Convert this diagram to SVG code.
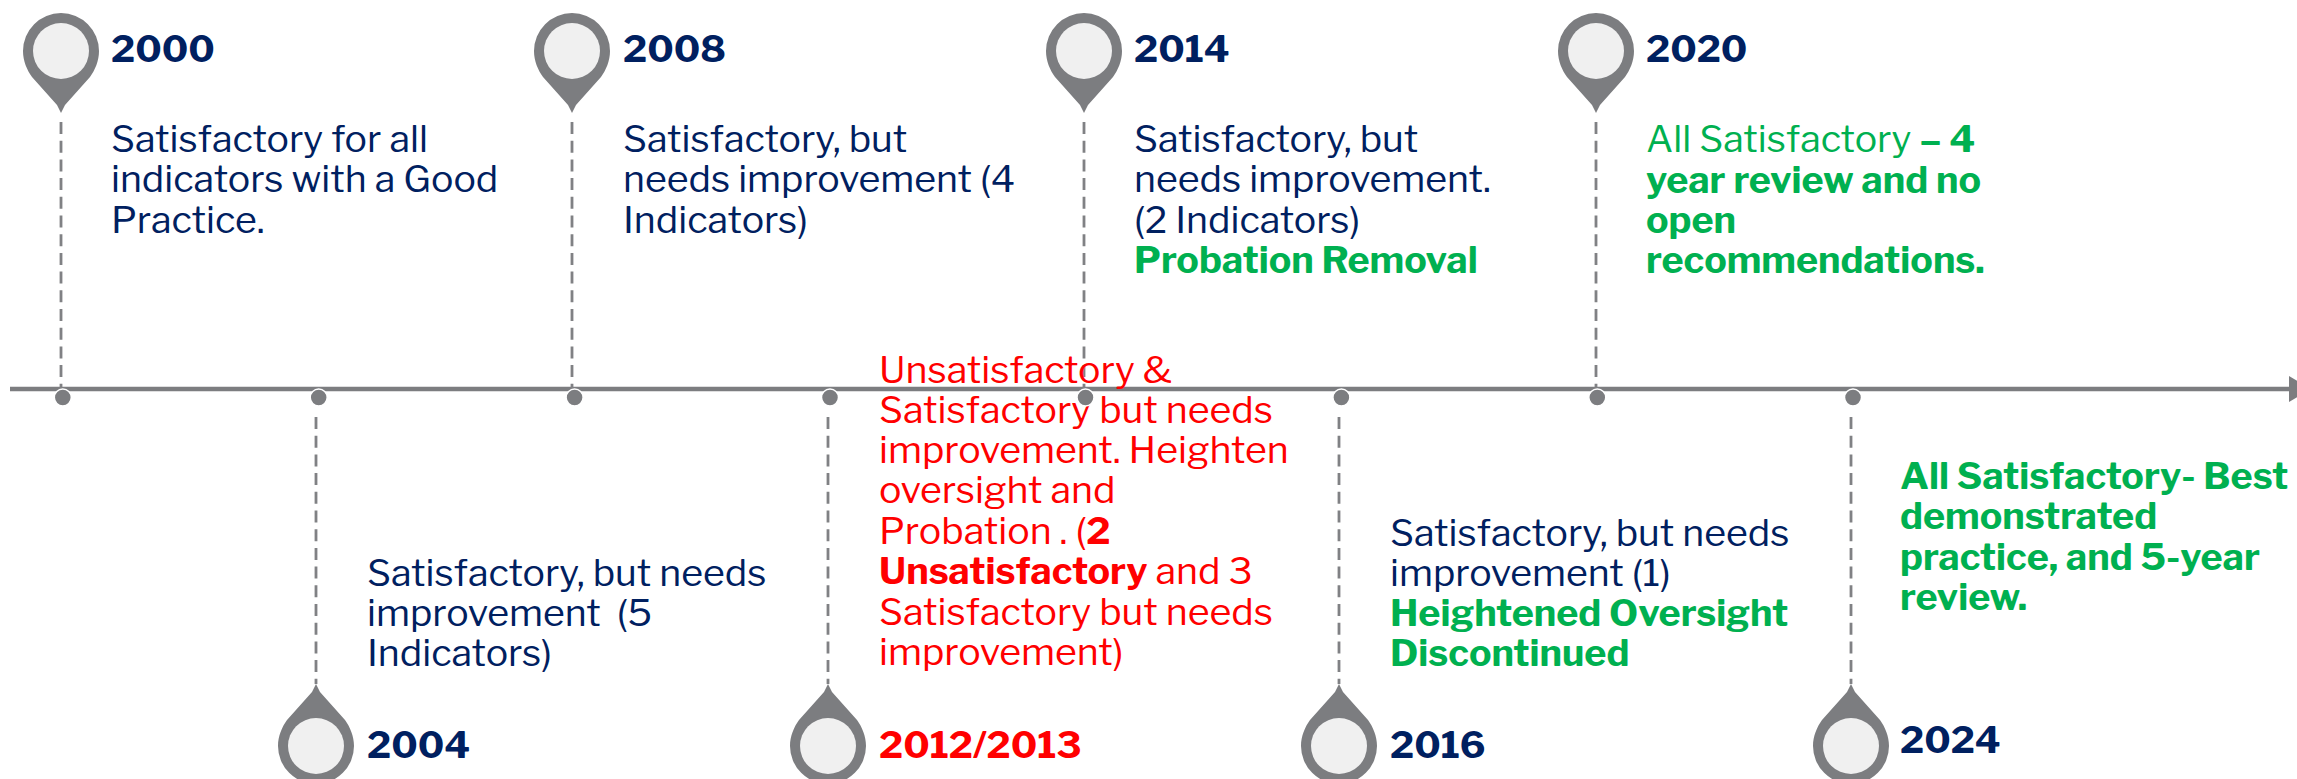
<svg xmlns="http://www.w3.org/2000/svg" width="2297" height="779" viewBox="0 0 2297 779">
<style>
text{font-family:"Libre Franklin","Liberation Sans",Arial,sans-serif;font-size:37.5px}
text .b,text.b{font-weight:700;font-size:37.7px}
text.y{font-weight:700;font-size:37.5px;fill:#002060}
.n{fill:#002060}.r{fill:#f00}.g{fill:#00b050}
.d{stroke:#808184;stroke-width:2.8;stroke-dasharray:12 6.7;fill:none}
.p{fill:#7c7d80}.c{fill:#f0f0f0}
.m circle{fill:#7c7d80;stroke:#fff;stroke-width:1.5}
</style>
<defs>
<g id="pd"><path class="p" d="M0,0L-4,-8L-29,-36C-34,-43 -38,-52 -38,-62A38,38 0 0 1 38,-62C38,-52 34,-43 29,-36L4,-8Z"/><circle class="c" cx="0" cy="-62" r="28"/></g>
<g id="pu"><path class="p" d="M0,0L4,8L29,36C34,43 38,52 38,62A38,38 0 0 1 -38,62C-38,52 -34,43 -29,36L-4,8Z"/><circle class="c" cx="0" cy="62" r="28"/></g>
</defs>
<g id="connectors">
<line x1="10" y1="389" x2="2290" y2="389" stroke="#7c7d80" stroke-width="4.4"/>
<path class="p" d="M2289,376L2289,402L2311,389Z"/>
<path class="d" d="M61,122V389M572,122V389M1084,122V389M1596,122V389M316,417V684M828,417V684M1339,417V684M1851,417V684"/>
</g>
<g id="n2000"><use href="#pd" x="61" y="113"/><text class="y" x="111" y="62">2000</text>
<text class="n"><tspan x="111" y="152">Satisfactory for all</tspan><tspan x="111" y="192">indicators with a Good</tspan><tspan x="111" y="233">Practice.</tspan></text></g>
<g id="n2004"><use href="#pu" x="316" y="684"/><text class="y" x="367" y="758">2004</text>
<text class="n" xml:space="preserve"><tspan x="367" y="586">Satisfactory, but needs</tspan><tspan x="367" y="626">improvement  (5</tspan><tspan x="367" y="666">Indicators)</tspan></text></g>
<g id="n2008"><use href="#pd" x="572" y="113"/><text class="y" x="623" y="62">2008</text>
<text class="n"><tspan x="623" y="152">Satisfactory, but</tspan><tspan x="623" y="192">needs improvement (4</tspan><tspan x="623" y="233">Indicators)</tspan></text></g>
<g id="n2012"><use href="#pu" x="828" y="684"/><text class="y" x="879" y="758" style="fill:#f00">2012/2013</text>
<text class="r"><tspan x="879" y="383">Unsatisfactory &amp;</tspan><tspan x="879" y="423">Satisfactory but needs</tspan><tspan x="879" y="463">improvement. Heighten</tspan><tspan x="879" y="503">oversight and</tspan><tspan x="879" y="544">Probation . (<tspan class="b">2</tspan></tspan><tspan x="879" y="584"><tspan class="b">Unsatisfactory</tspan> and 3</tspan><tspan x="879" y="625">Satisfactory but needs</tspan><tspan x="879" y="665">improvement)</tspan></text></g>
<g id="n2014"><use href="#pd" x="1084" y="113"/><text class="y" x="1134" y="62">2014</text>
<text class="n"><tspan x="1134" y="152">Satisfactory, but</tspan><tspan x="1134" y="192">needs improvement.</tspan><tspan x="1134" y="233">(2 Indicators)</tspan></text><text class="g b" x="1134" y="273">Probation Removal</text></g>
<g id="n2016"><use href="#pu" x="1339" y="684"/><text class="y" x="1390" y="758">2016</text>
<text class="n"><tspan x="1390" y="546">Satisfactory, but needs</tspan><tspan x="1390" y="586">improvement (1)</tspan></text><text class="g b"><tspan x="1390" y="626">Heightened Oversight</tspan><tspan x="1390" y="666">Discontinued</tspan></text></g>
<g id="n2020"><use href="#pd" x="1596" y="113"/><text class="y" x="1646" y="62">2020</text>
<text class="g"><tspan x="1646" y="152">All Satisfactory <tspan class="b">– 4</tspan></tspan><tspan class="b" x="1646" y="193">year review and no</tspan><tspan class="b" x="1646" y="233">open</tspan><tspan class="b" x="1646" y="273">recommendations.</tspan></text></g>
<g id="n2024"><use href="#pu" x="1851" y="684"/><text class="y" x="1900" y="753">2024</text>
<text class="g b"><tspan x="1900" y="489">All Satisfactory- Best</tspan><tspan x="1900" y="529">demonstrated</tspan><tspan x="1900" y="570">practice, and 5-year</tspan><tspan x="1900" y="610">review.</tspan></text></g>
<g id="markers" class="m"><circle cx="62.8" cy="397.5" r="8.5"/><circle cx="318.7" cy="397.5" r="8.5"/><circle cx="574.6" cy="397.5" r="8.5"/><circle cx="830" cy="397.5" r="8.5"/><circle cx="1085.5" cy="397.5" r="8.5"/><circle cx="1341.4" cy="397.5" r="8.5"/><circle cx="1597.3" cy="397.5" r="8.5"/><circle cx="1853" cy="397.5" r="8.5"/></g>
</svg>
